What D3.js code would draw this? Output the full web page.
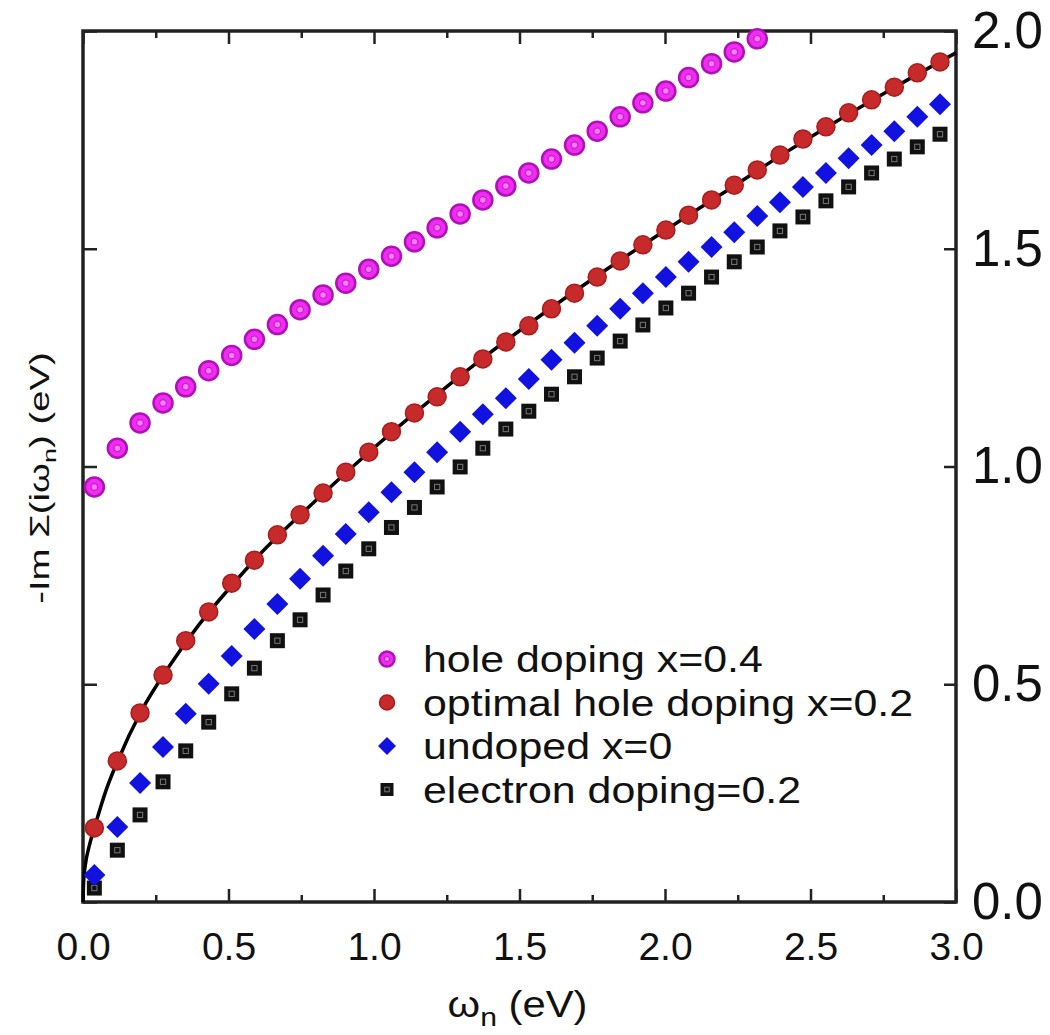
<!DOCTYPE html>
<html>
<head>
<meta charset="utf-8">
<script src="https://cdn.jsdelivr.net/npm/d3@7"></script>
<style>
  body { margin: 0; background: #fff; }
  text { font-family: "Liberation Sans", Arial, Helvetica, sans-serif; fill: #111; }
</style>
</head>
<body>
<script>
// Matsubara frequencies (eV)
const omega = [0.039, 0.118, 0.196, 0.275, 0.353, 0.432, 0.511, 0.589, 0.668, 0.746,
  0.825, 0.903, 0.982, 1.060, 1.139, 1.217, 1.296, 1.374, 1.453, 1.532,
  1.610, 1.689, 1.767, 1.846, 1.924, 2.003, 2.081, 2.160, 2.238, 2.317,
  2.395, 2.474, 2.553, 2.631, 2.710, 2.788, 2.867, 2.945];

// -Im Sigma values
const holeX04 = [0.953, 1.042, 1.100, 1.146, 1.183, 1.220, 1.255, 1.292, 1.326, 1.360,
  1.394, 1.421, 1.453, 1.483, 1.516, 1.548, 1.580, 1.612, 1.644, 1.674,
  1.706, 1.738, 1.770, 1.803, 1.835, 1.862, 1.893, 1.925, 1.952, 1.982];
const optimalX02 = [0.170, 0.324, 0.434, 0.521, 0.600, 0.666, 0.732, 0.785, 0.843, 0.889,
  0.939, 0.987, 1.033, 1.080, 1.123, 1.160, 1.206, 1.247, 1.286, 1.323,
  1.362, 1.398, 1.435, 1.472, 1.509, 1.543, 1.577, 1.612, 1.646, 1.681,
  1.715, 1.752, 1.780, 1.812, 1.842, 1.871, 1.904, 1.929];
const undoped = [0.062, 0.172, 0.273, 0.356, 0.432, 0.501, 0.565, 0.627, 0.684, 0.742,
  0.795, 0.845, 0.895, 0.941, 0.987, 1.033, 1.080, 1.120, 1.157, 1.201,
  1.245, 1.284, 1.323, 1.362, 1.398, 1.435, 1.470, 1.504, 1.538, 1.575,
  1.607, 1.642, 1.674, 1.708, 1.738, 1.770, 1.803, 1.832];
const electron02 = [0.032, 0.119, 0.200, 0.276, 0.347, 0.413, 0.478, 0.537, 0.600, 0.648,
  0.705, 0.760, 0.811, 0.860, 0.906, 0.953, 0.999, 1.042, 1.086, 1.127,
  1.166, 1.206, 1.249, 1.288, 1.325, 1.364, 1.398, 1.435, 1.470, 1.504,
  1.541, 1.573, 1.610, 1.642, 1.674, 1.706, 1.734, 1.763];

// fit curve through the optimal doping points
const fitX = [0, 0.002, 0.008, 0.02, 0.04, 0.08, 0.12, 0.2, 0.3, 0.4, 0.5, 0.6, 0.8,
  1.0, 1.2, 1.4, 1.6, 1.8, 2.0, 2.2, 2.4, 2.6, 2.8, 3.0];
const fitY = [0, 0.045, 0.085, 0.125, 0.172, 0.258, 0.325, 0.438, 0.545, 0.638, 0.718, 0.793, 0.922,
  1.043, 1.156, 1.262, 1.360, 1.453, 1.542, 1.628, 1.715, 1.797, 1.875, 1.950];

const legendLabels = ["hole doping x=0.4", "optimal hole doping x=0.2", "undoped x=0", "electron doping=0.2"];
const xMajor = [0, 0.5, 1.0, 1.5, 2.0, 2.5, 3.0];
const xMinor = [0.25, 0.75, 1.25, 1.75, 2.25, 2.75];
const yMajor = [0, 0.5, 1.0, 1.5, 2.0];

const W = 1050, H = 1035;
const margin = { top: 31, right: 94, bottom: 133, left: 83 };
const width = W - margin.left - margin.right;
const height = H - margin.top - margin.bottom;

const svg = d3.select("body").append("svg")
  .attr("width", W).attr("height", H);
svg.append("rect").attr("width", W).attr("height", H).attr("fill", "#fff");

const g = svg.append("g")
  .attr("transform", `translate(${margin.left},${margin.top})`);

const x = d3.scaleLinear().domain([0, 3]).range([0, width]);
const y = d3.scaleLinear().domain([0, 2]).range([height, 0]);

// axes, ticks pointing inward
function styleAxis(sel) {
  sel.select(".domain").remove();
  sel.selectAll(".tick line").attr("stroke", "#222").attr("stroke-width", 2.5);
}
g.append("g").attr("transform", `translate(0,${height})`)
  .call(d3.axisBottom(x).tickValues(xMajor).tickSizeInner(-13).tickSizeOuter(0)
    .tickPadding(30).tickFormat(d3.format(".1f")))
  .call(styleAxis)
  .call(s => s.selectAll("text").attr("font-size", 39).attr("fill", "#111"));
g.append("g").attr("transform", `translate(0,${height})`)
  .call(d3.axisBottom(x).tickValues(xMinor).tickSizeInner(-7).tickSizeOuter(0).tickFormat(""))
  .call(styleAxis);
g.append("g")
  .call(d3.axisTop(x).tickValues(xMajor).tickSizeInner(-13).tickSizeOuter(0).tickFormat(""))
  .call(styleAxis);
g.append("g")
  .call(d3.axisTop(x).tickValues(xMinor).tickSizeInner(-7).tickSizeOuter(0).tickFormat(""))
  .call(styleAxis);
g.append("g")
  .call(d3.axisLeft(y).tickValues(yMajor).tickSizeInner(-14).tickSizeOuter(0).tickFormat(""))
  .call(styleAxis);
g.append("g").attr("transform", `translate(${width},0)`)
  .call(d3.axisRight(y).tickValues(yMajor).tickSizeInner(-12).tickSizeOuter(0)
    .tickPadding(16).tickFormat(d3.format(".1f")))
  .call(styleAxis)
  .call(s => s.selectAll("text").attr("font-size", 51).attr("fill", "#111"));

// frame
g.append("rect")
  .attr("width", width).attr("height", height)
  .attr("fill", "none").attr("stroke", "#222").attr("stroke-width", 3.5);

// fit line
const line = d3.line().x(d => x(d[0])).y(d => y(d[1])).curve(d3.curveMonotoneX);
g.append("path")
  .datum(d3.zip(fitX, fitY))
  .attr("d", line)
  .attr("fill", "none").attr("stroke", "#000").attr("stroke-width", 3.5);

// marker drawers
function circleMagenta(sel, r) {
  sel.append("circle").attr("r", r).attr("fill", "#f02cf0").attr("stroke", "#b010b8").attr("stroke-width", 2.5);
  sel.append("circle").attr("r", r * 0.35).attr("fill", "#ff7aff").attr("stroke", "#c020c8").attr("stroke-width", 1.2);
}
function circleRed(sel, r) {
  sel.append("circle").attr("r", r).attr("fill", "#c62a2a").attr("stroke", "#a81c1c").attr("stroke-width", 1.5);
}
function diamondBlue(sel, r) {
  sel.append("path").attr("d", `M0,${-r}L${r},0L0,${r}L${-r},0Z`).attr("fill", "#1212e0");
}
function squareBlack(sel, r) {
  sel.append("rect").attr("x", -r).attr("y", -r).attr("width", 2 * r).attr("height", 2 * r).attr("fill", "#111");
  sel.append("rect").attr("x", -r * 0.35).attr("y", -r * 0.35).attr("width", r * 0.7).attr("height", r * 0.7)
    .attr("fill", "none").attr("stroke", "#777").attr("stroke-width", 1);
}

const series = [
  { vals: holeX04, draw: circleMagenta, size: 9.5, legSize: 7.5 },
  { vals: optimalX02, draw: circleRed, size: 9, legSize: 7.5 },
  { vals: undoped, draw: diamondBlue, size: 11, legSize: 9 },
  { vals: electron02, draw: squareBlack, size: 7.5, legSize: 6.5 }
];

// draw squares first so diamonds/circles sit on top
[3, 2, 1, 0].forEach(i => {
  const s = series[i];
  g.append("g").selectAll("g")
    .data(s.vals.map((v, k) => [omega[k], v]))
    .join("g")
    .attr("transform", d => `translate(${x(d[0])},${y(d[1])})`)
    .each(function () { s.draw(d3.select(this), s.size); });
});

// legend
const legend = svg.append("g").attr("transform", "translate(387,659)");
legendLabels.forEach((lab, i) => {
  const row = legend.append("g").attr("transform", `translate(0,${i * 43.5})`);
  series[i].draw(row.append("g"), series[i].legSize);
  row.append("text")
    .attr("transform", "translate(36,13) scale(1.16,1)")
    .attr("font-size", 37)
    .text(lab);
});

// axis titles
const xt = svg.append("text")
  .attr("transform", `translate(${margin.left + width / 2 - 2},1017) scale(1.16,1)`)
  .attr("text-anchor", "middle")
  .attr("font-size", 36);
xt.append("tspan").text("ω");
xt.append("tspan").attr("font-size", 26).attr("dy", 9).text("n");
xt.append("tspan").attr("dy", -9).text(" (eV)");

const yt = svg.append("text")
  .attr("transform", "translate(49,478) rotate(-90) scale(1.42,1)")
  .attr("text-anchor", "middle")
  .attr("font-size", 27);
yt.append("tspan").text("-Im Σ(iω");
yt.append("tspan").attr("font-size", 19).attr("dy", 7).text("n");
yt.append("tspan").attr("dy", -7).text(") (eV)");
</script>
</body>
</html>
